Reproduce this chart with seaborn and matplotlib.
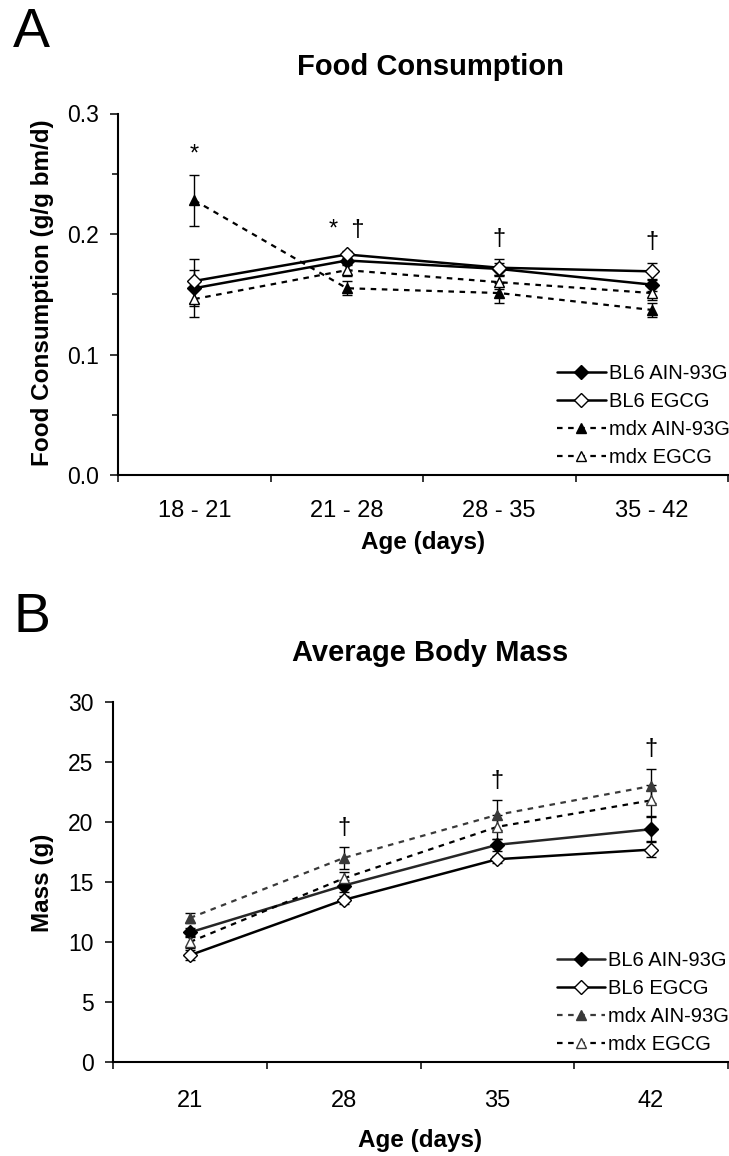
import numpy as np
import matplotlib
matplotlib.use("Agg")
import matplotlib.pyplot as plt
import seaborn as sns
from matplotlib.ticker import FixedLocator

# ---------------- data ----------------
series_names = ["BL6 AIN-93G", "BL6 EGCG", "mdx AIN-93G", "mdx EGCG"]

food_age = ["18 - 21", "21 - 28", "28 - 35", "35 - 42"]
food_bl6_ain = [0.155, 0.178, 0.171, 0.158]
food_bl6_egcg = [0.161, 0.183, 0.172, 0.169]
food_mdx_ain = [0.228, 0.155, 0.151, 0.137]
food_mdx_egcg = [0.146, 0.170, 0.160, 0.151]
food_bl6_ain_err = [0.015, 0.004, 0.005, 0.005]
food_bl6_egcg_err = [0.018, 0.003, 0.007, 0.007]
food_mdx_ain_err = [0.021, 0.006, 0.008, 0.0055]
food_mdx_egcg_err = [0.015, 0.005, 0.006, 0.006]
food_sig = ["*", "*  \u2020", "\u2020", "\u2020"]

mass_age = ["21", "28", "35", "42"]
mass_bl6_ain = [10.8, 14.7, 18.1, 19.4]
mass_bl6_egcg = [8.9, 13.5, 16.9, 17.7]
mass_mdx_ain = [12.0, 17.0, 20.6, 23.0]
mass_mdx_egcg = [10.0, 15.3, 19.6, 21.8]
mass_bl6_ain_err = [0.4, 0.5, 0.5, 1.0]
mass_bl6_egcg_err = [0.4, 0.3, 0.3, 0.6]
mass_mdx_ain_err = [0.4, 0.9, 1.25, 1.45]
mass_mdx_egcg_err = [0.5, 0.5, 1.0, 1.3]
mass_sig = ["", "\u2020", "\u2020", "\u2020"]

# ---------------- style ----------------
sns.set_theme(style="ticks", rc={
    "axes.edgecolor": "black", "text.color": "black", "axes.labelcolor": "black",
    "xtick.color": "black", "ytick.color": "black",
})
plt.rcParams['font.family'] = ['Liberation Sans', 'DejaVu Sans']

W, H = 729, 1156
fig = plt.figure(figsize=(W / 100, H / 100), dpi=100)


def px_ax(l, t, r, b):
    return fig.add_axes([l / W, 1 - b / H, (r - l) / W, (b - t) / H])


def fx(px):
    return px / W


def fy(py):
    return 1 - py / H


def draw_panel(ax, cats, vals_list, errs_list, styles, sig, ylim, yticks,
               yminor, ytickfmt, sig_gap, legend_anchor, xpad):
    x = np.arange(len(cats))
    handles = []
    for vals, errs, st in zip(vals_list, errs_list, styles):
        ax.errorbar(x, vals, yerr=errs, fmt='none', ecolor=st['ecolor'],
                    elinewidth=1.0, capsize=3.5, capthick=1.0, zorder=2)
        sns.lineplot(x=x, y=vals, ax=ax, color=st['lc'], linestyle=st['ls'],
                     linewidth=st['lw'], marker=st['m'], markersize=st['ms'],
                     markerfacecolor=st['mfc'], markeredgecolor=st['mec'],
                     markeredgewidth=1.0, zorder=3)
        handles.append(ax.lines[-1])

    # significance marks
    tops = np.max(np.array(vals_list) + np.array(errs_list), axis=0)
    for xi, s, t in zip(x, sig, tops):
        if s:
            ax.text(xi, t + sig_gap, s, ha='center', va='baseline', fontsize=17)

    ax.set_xlim(-0.5, len(cats) - 0.5)
    ax.set_ylim(*ylim)
    ax.set_yticks(yticks)
    ax.set_yticklabels([ytickfmt.format(v) for v in yticks])
    if yminor:
        ax.yaxis.set_minor_locator(FixedLocator(yminor))
        ax.tick_params(axis='y', which='minor', length=4.5, width=1.1,
                       direction='out')
    ax.tick_params(axis='y', which='major', length=6, width=1.1,
                   direction='out', pad=8, labelsize=16.5)

    ax.set_xticks(np.arange(-0.5, len(cats), 1.0))
    ax.set_xticklabels([])
    ax.set_xticks(x, minor=True)
    ax.set_xticklabels(cats, minor=True)
    ax.tick_params(axis='x', which='major', length=5, width=1.1,
                   direction='out')
    ax.tick_params(axis='x', which='minor', length=0, pad=xpad, labelsize=17)

    for sp in ['top', 'right']:
        ax.spines[sp].set_visible(False)
    for sp in ['left', 'bottom']:
        ax.spines[sp].set_linewidth(1.5)
        ax.spines[sp].set_color('black')
    ax.set_xlabel("")
    ax.set_ylabel("")

    ax.legend(handles, series_names, loc='center left',
              bbox_to_anchor=legend_anchor, frameon=False, fontsize=14.5,
              handlelength=2.4, handletextpad=0.15, labelspacing=0.45,
              borderpad=0, borderaxespad=0, numpoints=1)


# Panel A
axA = px_ax(118, 113.5, 728, 475)
stylesA = [
    dict(lc='black', ls='-', lw=1.8, m='D', ms=7.5, mfc='black', mec='black', ecolor='black'),
    dict(lc='black', ls='-', lw=1.8, m='D', ms=7.5, mfc='white', mec='black', ecolor='black'),
    dict(lc='black', ls=(0, (2.5, 2.5)), lw=1.6, m='^', ms=7.5, mfc='black', mec='black', ecolor='black'),
    dict(lc='black', ls=(0, (2.5, 2.5)), lw=1.6, m='^', ms=7.5, mfc='white', mec='black', ecolor='black'),
]
draw_panel(axA, food_age,
           [food_bl6_ain, food_bl6_egcg, food_mdx_ain, food_mdx_egcg],
           [food_bl6_ain_err, food_bl6_egcg_err, food_mdx_ain_err, food_mdx_egcg_err],
           stylesA, food_sig, (0, 0.3), [0.0, 0.1, 0.2, 0.3],
           [0.05, 0.15, 0.25], "{:.1f}", 0.012, (0.72, 0.164), 18)

# Panel B
axB = px_ax(113, 702, 728, 1062)
dark = '#262626'
gray = '#3a3a3a'
stylesB = [
    dict(lc=dark, ls='-', lw=1.8, m='D', ms=7.5, mfc='black', mec='black', ecolor='black'),
    dict(lc='black', ls='-', lw=1.8, m='D', ms=7.5, mfc='white', mec='black', ecolor='black'),
    dict(lc=gray, ls=(0, (2.5, 2.5)), lw=1.6, m='^', ms=7.5, mfc=gray, mec=gray, ecolor='black'),
    dict(lc='black', ls=(0, (2.5, 2.5)), lw=1.6, m='^', ms=7.5, mfc='white', mec=gray, ecolor='black'),
]
draw_panel(axB, mass_age,
           [mass_bl6_ain, mass_bl6_egcg, mass_mdx_ain, mass_mdx_egcg],
           [mass_bl6_ain_err, mass_bl6_egcg_err, mass_mdx_ain_err, mass_mdx_egcg_err],
           stylesB, mass_sig, (0, 30), [0, 5, 10, 15, 20, 25, 30],
           None, "{:d}", 1.1, (0.722, 0.166), 20)

# Titles, axis labels, panel letters
fig.text(fx(430), fy(67), "Food Consumption", ha='center', va='center',
         fontsize=21, fontweight='bold')
fig.text(fx(430), fy(653), "Average Body Mass", ha='center', va='center',
         fontsize=21, fontweight='bold')
fig.text(fx(43), fy(293), "Food Consumption (g/g bm/d)", rotation=90,
         ha='center', va='center', fontsize=17.5, fontweight='bold')
fig.text(fx(43), fy(883), "Mass (g)", rotation=90,
         ha='center', va='center', fontsize=17.5, fontweight='bold')
fig.text(fx(423), fy(543), "Age (days)", ha='center', va='center',
         fontsize=17.5, fontweight='bold')
fig.text(fx(420), fy(1140), "Age (days)", ha='center', va='center',
         fontsize=17.5, fontweight='bold')
fig.text(fx(13), fy(47), "A", ha='left', va='baseline', fontsize=40)
fig.text(fx(13), fy(632), "B", ha='left', va='baseline', fontsize=40)

fig.savefig("out.png", dpi=100)
